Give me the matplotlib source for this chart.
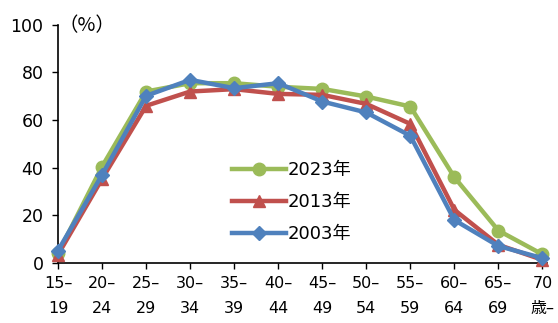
import matplotlib
matplotlib.use("Agg")
import matplotlib.pyplot as plt

plt.rcParams['font.family'] = ['DejaVu Sans', 'Noto Sans CJK JP']

age_groups = ["15–\n19", "20–\n24", "25–\n29", "30–\n34", "35–\n39", "40–\n44",
              "45–\n49", "50–\n54", "55–\n59", "60–\n64", "65–\n69", "70\n歳–"]
rate_2023 = [4.0, 40.5, 72.0, 75.5, 75.5, 74.0, 73.1, 69.9, 65.7, 36.0, 13.6, 3.6]
rate_2013 = [3.5, 35.3, 66.0, 72.0, 73.0, 71.0, 70.6, 66.8, 58.4, 22.3, 7.6, 1.3]
rate_2003 = [5.2, 37.0, 70.2, 76.9, 73.4, 75.5, 67.8, 63.2, 53.4, 18.0, 7.1, 2.0]
yticks = [0, 20, 40, 60, 80, 100]

fig = plt.figure(figsize=(5.58, 3.23), dpi=100)
ax = fig.add_axes([0.104, 0.186, 0.876, 0.737])

x = list(range(len(age_groups)))
ax.plot(x, rate_2023, color="#9BBB59", lw=3.2, marker="o", ms=9, label="2023年",
        zorder=3, clip_on=False)
ax.plot(x, rate_2013, color="#C0504D", lw=3.2, marker="^", ms=9, label="2013年",
        zorder=4, clip_on=False)
ax.plot(x, rate_2003, color="#4F81BD", lw=3.2, marker="D", ms=7.5, label="2003年",
        zorder=5, clip_on=False)

ax.set_xlim(0, 11.1)
ax.set_ylim(0, 100)
ax.set_xticks(x)
ax.set_xticklabels(age_groups, fontsize=11.5, linespacing=1.85)
ax.set_yticks(yticks)
ax.set_yticklabels([str(v) for v in yticks], fontsize=12.5)
ax.tick_params(axis="both", direction="out", length=4.5, width=1, color="black")
ax.tick_params(axis="x", pad=5)
ax.tick_params(axis="y", pad=6)
for s in ("top", "right"):
    ax.spines[s].set_visible(False)
for s in ("left", "bottom"):
    ax.spines[s].set_linewidth(1.2)

ax.text(0.0, 0.995, "（%）", transform=ax.transAxes, fontsize=14,
        family=['Noto Sans CJK JP'], va="center", ha="left")

ax.legend(loc="center left", bbox_to_anchor=(0.322, 0.255), frameon=False,
          fontsize=13, handlelength=3.0, labelspacing=0.76, handletextpad=0.1)

fig.savefig("out.png", dpi=100)
